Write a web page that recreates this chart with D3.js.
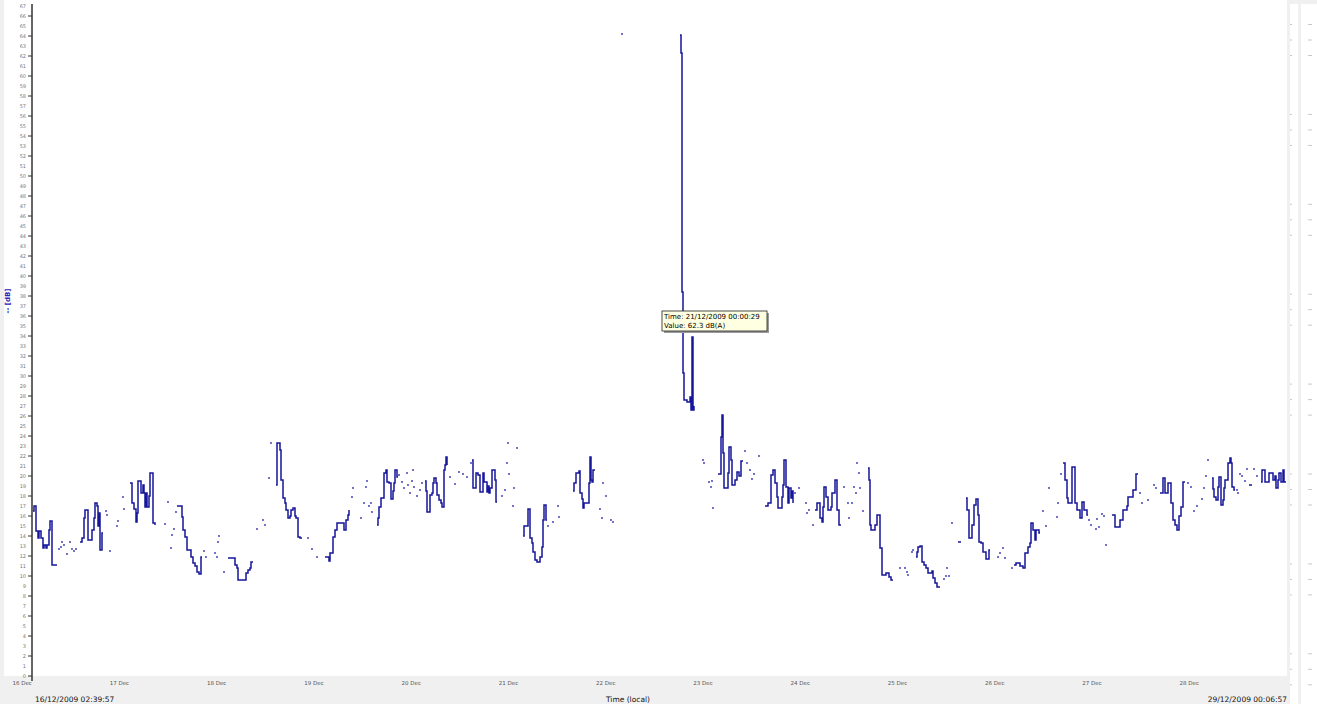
<!DOCTYPE html>
<html>
<head>
<meta charset="utf-8">
<script src="https://cdn.jsdelivr.net/npm/d3@7"></script>
<style>
  body { margin: 0; background: #f0f0f0; }
  svg { display: block; font-family: "DejaVu Sans", sans-serif; }
</style>
</head>
<body>
<div id="chart"></div>
<script>
const svgWidth = 1317;
const svgHeight = 704;

const margin = { top: 5, right: 30, bottom: 28, left: 33 };
const plotRight = svgWidth - margin.right;    // 1287
const plotBottom = svgHeight - margin.bottom; // 676

// time span of the recording, sampled at a fixed step
const startTime = new Date(2009, 11, 16, 2, 39, 57);
const endTime = new Date(2009, 11, 29, 0, 6, 57);
const sampleCount = 1254;

// level values, [sample, value]; each array is one unbroken run of samples
const segments = [
  [[0,16.5],[1,17.0],[3,14.5],[5,13.8],[6,14.5],[8,13.8],[10,12.8],[11,13.1],[13,12.8],[14,13.1],[16,14.6],[17,15.5],[19,11.1],[24,11.1]],
  [[47,13.4],[49,13.8],[51,15.8],[52,16.6],[54,16.6],[55,13.6],[58,13.6],[59,14.6],[61,15.8],[62,17.3],[64,17.0],[65,15.0],[66,16.3],[67,12.6],[69,14.3],[70,14.3]],
  [[97,19.3],[99,17.3],[101,16.7],[103,15.4],[104,16.3],[105,19.5],[107,19.5],[108,18.3],[110,19.1],[111,18.3],[112,16.9],[113,18.3],[114,16.9],[116,18.0],[117,20.3],[119,20.3],[120,15.3],[122,15.1]],
  [[144,17.0],[147,17.0],[149,15.9],[150,14.6],[152,13.9],[154,12.6],[156,12.6],[158,11.9],[160,11.3],[162,11.0],[164,10.4],[166,10.2],[168,11.9],[169,11.9]],
  [[195,11.8],[202,11.1],[204,10.8],[205,9.6],[213,10.3],[215,10.6],[217,10.8],[218,11.4],[220,11.4]],
  [[243,19.1],[244,23.3],[247,22.6],[248,19.6],[250,17.8],[252,17.3],[253,16.6],[255,15.8],[257,16.0],[258,16.6],[260,16.8],[262,16.0],[263,15.8],[265,13.9],[267,13.8],[269,13.8]],
  [[292,11.9],[296,11.5],[297,12.3],[300,13.9],[302,14.6],[304,15.3],[310,15.3],[311,14.6],[313,15.6],[315,16.1],[316,16.6]],
  [[344,15.1],[345,15.8],[346,16.9],[348,17.8],[351,20.3],[353,20.6],[354,19.4],[356,19.3],[358,17.7],[360,18.5],[361,19.3],[362,20.6],[364,19.9],[365,19.9]],
  [[392,19.5],[393,18.5],[394,16.4],[396,16.4],[397,18.1],[399,18.3],[400,19.3],[401,19.8],[403,19.3],[404,18.1],[406,17.6],[408,17.3],[409,16.9],[411,20.6],[412,21.1],[413,21.9],[414,21.1]],
  [[439,21.6],[440,18.8],[443,20.3],[445,20.1],[447,18.4],[450,20.3],[451,19.4],[454,18.4],[455,19.0],[456,18.3],[457,18.8],[459,20.6],[462,19.6],[463,17.4],[464,17.4]],
  [[490,14.0],[491,15.0],[495,16.7],[497,13.8],[499,13.3],[500,12.4],[502,11.6],[504,11.4],[507,11.9],[509,12.9],[510,15.6],[511,17.1],[513,15.6],[514,15.6]],
  [[540,18.5],[541,19.3],[543,20.3],[546,20.5],[547,18.3],[549,17.7],[550,16.8],[551,17.3],[554,17.3],[556,19.3],[557,21.9],[558,19.6],[559,19.4],[560,20.6],[562,20.6]],
  [[647,64.1],[648,62.3],[649,38.4],[650,30.3],[651,27.6],[654,27.4],[657,27.9],[658,26.6],[659,33.9],[660,26.6],[661,27.0]],
  [[685,20.2],[688,23.9],[689,26.1],[690,22.3],[691,18.8],[695,20.3],[696,22.9],[698,21.6],[699,19.1],[702,19.6],[704,20.4],[706,20.0],[708,21.5],[710,21.5]],
  [[732,17.0],[735,17.3],[738,20.1],[740,20.6],[742,19.3],[744,17.9],[745,16.8],[749,17.9],[750,19.1],[751,21.6],[753,18.9],[755,17.3],[756,18.8],[758,17.8],[759,18.5],[760,17.3]],
  [[782,16.6],[784,17.3],[787,15.8],[789,15.4],[790,16.9],[791,18.9],[793,17.9],[795,16.6],[798,16.9],[799,18.3],[802,19.6],[804,16.6],[806,15.1],[808,15.1]],
  [[835,20.8],[836,19.6],[837,15.1],[838,14.6],[842,15.1],[844,16.1],[847,12.8],[849,10.1],[853,10.3],[856,9.9],[858,9.6],[860,9.6]],
  [[883,11.9],[884,12.4],[885,12.9],[887,13.0],[889,11.4],[891,11.1],[893,10.8],[895,10.3],[899,10.5],[900,9.8],[902,9.3],[904,8.9],[907,8.9]],
  [[925,13.4],[928,13.4]],
  [[933,17.8],[934,16.6],[936,13.8],[939,15.1],[941,17.1],[943,17.7],[945,16.1],[946,13.4],[948,13.3],[950,12.4],[953,11.7],[956,12.6],[957,12.6]],
  [[981,11.1],[983,11.3],[987,11.0],[990,10.8],[992,12.3],[995,12.9],[997,13.3],[998,15.3],[1000,14.6],[1002,13.6],[1003,14.6],[1006,14.3],[1007,14.3]],
  [[1030,21.3],[1032,19.6],[1034,17.8],[1035,17.3],[1039,20.9],[1042,17.3],[1044,16.6],[1047,15.8],[1049,17.4],[1051,16.6],[1054,16.1],[1055,16.1]],
  [[1079,16.1],[1082,14.9],[1087,15.6],[1090,16.6],[1094,17.0],[1095,17.9],[1100,18.6],[1103,20.2],[1105,20.2]],
  [[1127,18.3],[1130,19.8],[1132,18.3],[1135,19.3],[1138,17.3],[1140,15.6],[1142,15.1],[1144,14.6],[1146,16.0],[1148,16.9],[1150,19.4],[1152,19.4]],
  [[1179,19.8],[1180,18.7],[1181,17.9],[1183,17.6],[1185,18.9],[1186,19.9],[1188,17.1],[1190,17.6],[1191,18.8],[1192,19.6],[1195,21.3],[1197,21.8],[1198,21.3],[1199,18.9],[1201,18.6],[1202,18.6]],
  [[1216,19.1],[1219,19.1]],
  [[1228,19.4],[1229,20.6],[1232,19.4],[1236,20.3],[1240,19.6],[1242,20.0],[1243,18.8],[1245,19.6],[1246,20.3],[1248,19.4],[1250,20.6],[1251,19.4],[1253,19.4]]
];

// lone samples between the gaps
const dots = [
  [26,12.7],[28,12.9],[29,13.4],[31,13.1],[34,12.2],[37,13.4],[39,12.7],[41,12.5],[43,12.7],
  [73,16.5],[74,16.1],[77,12.5],[84,15.0],[85,15.5],[90,17.9],[91,16.7],
  [132,15.2],[135,17.4],[138,12.8],[139,14.1],[141,14.7],[143,16.4],
  [171,12.5],[173,11.9],[182,12.3],[184,11.9],[185,13.4],[186,14.0],[191,10.4],
  [224,14.7],[230,15.6],[232,15.1],[236,19.8],[238,23.3],
  [275,13.8],[279,12.7],[284,11.9],
  [319,17.9],[320,18.8],[328,15.8],[331,17.3],[333,18.9],[334,19.5],[336,17.0],[338,17.3],[339,16.4],
  [366,20.1],[369,19.4],[371,18.8],[374,20.3],[375,19.1],[377,18.3],[379,19.5],[380,20.6],[381,18.9],[384,18.0],[387,18.6],[389,19.3],
  [417,19.9],[422,19.2],[426,20.4],[430,20.2],[434,19.9],[438,21.3],
  [469,18.0],[472,18.6],[474,21.3],[475,23.3],[476,20.2],[480,17.0],[481,18.8],[484,22.8],
  [515,15.0],[520,15.4],[525,17.0],[526,15.9],
  [567,16.7],[569,15.8],[570,19.3],[573,18.0],[578,15.6],[580,15.4],[589,64.2],
  [670,21.6],[671,21.3],[676,19.4],[678,18.9],[679,19.5],[680,16.8],
  [712,22.5],[714,21.3],[717,20.6],[719,19.7],[721,20.2],[726,22.0],
  [762,18.3],[766,18.8],[773,17.3],[774,16.3],[776,16.6],[780,15.1],
  [811,18.9],[815,17.3],[816,15.8],[819,17.3],[821,18.9],[823,18.3],[824,21.3],[826,20.3],[827,18.8],[830,16.5],
  [867,10.8],[872,10.8],[874,10.4],[875,10.1],[879,12.4],[880,12.6],
  [911,9.7],[913,10.0],[914,10.8],[916,10.0],[919,15.3],
  [965,11.9],[967,12.3],[970,12.8],[972,11.8],[979,10.8],
  [1010,16.5],[1013,15.0],[1016,18.8],[1024,15.9],[1025,17.3],[1028,20.2],
  [1056,15.6],[1058,15.1],[1063,14.7],[1064,15.7],[1066,14.9],[1069,16.2],[1071,16.0],[1073,13.1],
  [1107,18.3],[1109,17.3],[1115,17.6],[1121,19.1],[1123,18.8],
  [1155,19.3],[1158,18.9],[1161,16.5],[1164,17.0],[1169,17.7],[1171,18.8],[1173,20.0],[1175,21.6],
  [1204,18.6],[1205,18.3],[1207,20.2],[1209,20.0],[1212,19.5],[1214,20.7],[1221,20.7],[1224,20.0]
];

const yMax = 67.1;
const yLabel = "-- [dB]";
const xTitle = "Time (local)";
const tooltipLines = ["Time:  21/12/2009 00:00:29", "Value: 62.3 dB(A)"];

const stepMs = (endTime - startTime) / sampleCount;
const sampleTime = i => new Date(+startTime + i * stepMs);

const svg = d3.select("#chart")
  .append("svg")
  .attr("width", svgWidth)
  .attr("height", svgHeight);

// white panels
svg.append("rect")
  .attr("x", 4).attr("y", 0)
  .attr("width", plotRight - 4).attr("height", plotBottom)
  .attr("fill", "#fff");
svg.append("rect")
  .attr("x", 1290).attr("y", 4).attr("width", 8).attr("height", svgHeight - 4)
  .attr("fill", "#fff");
svg.append("rect")
  .attr("x", 1301).attr("y", 4).attr("width", 16).attr("height", svgHeight - 4)
  .attr("fill", "#fff");

// small marks in the side panels
const sideMarks = d3.range(8).flatMap(g => d3.range(3).map(k => 24 + g * 89.9 + k * 15.5));
svg.append("g").selectAll("rect")
  .data(sideMarks)
  .join("rect")
  .attr("x", 1290).attr("y", d => d)
  .attr("width", 2).attr("height", 1)
  .attr("fill", "#c8c8c8");
svg.append("g").selectAll("rect")
  .data(sideMarks)
  .join("rect")
  .attr("x", 1308).attr("y", d => d)
  .attr("width", 4).attr("height", 1)
  .attr("fill", "#c8c8c8");

const xScale = d3.scaleTime()
  .domain([startTime, endTime])
  .range([margin.left, plotRight]);

const yScale = d3.scaleLinear()
  .domain([0, yMax])
  .range([plotBottom, margin.top]);

// y axis: a label on every unit, a tick on every second one
const yTicks = d3.range(0, Math.floor(yMax) + 1);
const yAxis = svg.append("g");
yAxis.append("line")
  .attr("x1", 32).attr("x2", 32)
  .attr("y1", margin.top - 1).attr("y2", plotBottom + 5)
  .attr("stroke", "#333").attr("stroke-width", 1.5);
yAxis.selectAll("line.tick")
  .data(yTicks.filter(d => d % 2 === 0))
  .join("line")
  .attr("class", "tick")
  .attr("x1", 28).attr("x2", 32)
  .attr("y1", d => yScale(d)).attr("y2", d => yScale(d))
  .attr("stroke", "#333");
yAxis.selectAll("text")
  .data(yTicks)
  .join("text")
  .attr("x", 26)
  .attr("y", d => yScale(d) + 2)
  .attr("text-anchor", "end")
  .attr("font-size", "5px")
  .attr("fill", "#777")
  .text(d => d);

svg.append("text")
  .attr("transform", "translate(10, 301) rotate(-90)")
  .attr("text-anchor", "middle")
  .attr("font-size", "7px")
  .attr("font-weight", "bold")
  .attr("fill", "#2424b8")
  .text(yLabel);

// x axis: one label per day, none crowding the end label
const dayTicks = d3.timeDay.range(d3.timeDay.floor(startTime), endTime)
  .filter(d => xScale(d) < plotRight - 40);
svg.append("g").selectAll("text")
  .data(dayTicks)
  .join("text")
  .attr("x", d => xScale(d))
  .attr("y", 685)
  .attr("text-anchor", "middle")
  .attr("font-size", "5.5px")
  .attr("fill", "#555")
  .text(d3.timeFormat("%d %b"));

const fullFormat = d3.timeFormat("%d/%m/%Y %H:%M:%S");
svg.append("text")
  .attr("x", 35).attr("y", 702)
  .attr("font-size", "7.5px")
  .attr("fill", "#111")
  .text(fullFormat(startTime));
svg.append("text")
  .attr("x", 628).attr("y", 702)
  .attr("text-anchor", "middle")
  .attr("font-size", "7.5px")
  .attr("fill", "#111")
  .text(xTitle);
svg.append("text")
  .attr("x", plotRight).attr("y", 702)
  .attr("text-anchor", "end")
  .attr("font-size", "7.5px")
  .attr("fill", "#111")
  .text(fullFormat(endTime));

// the level trace
const line = d3.line()
  .x(d => xScale(sampleTime(d[0])))
  .y(d => yScale(d[1]))
  .curve(d3.curveStepAfter);

svg.append("g").selectAll("path")
  .data(segments)
  .join("path")
  .attr("d", line)
  .attr("fill", "none")
  .attr("stroke", "#16169a")
  .attr("stroke-width", 1.5);

svg.append("g").selectAll("circle")
  .data(dots)
  .join("circle")
  .attr("cx", d => xScale(sampleTime(d[0])))
  .attr("cy", d => yScale(d[1]))
  .attr("r", 0.9)
  .attr("fill", "#3030b0");

// hover tooltip
const tip = svg.append("g").attr("transform", "translate(662, 311)");
tip.append("rect")
  .attr("x", 2).attr("y", 2).attr("width", 105).attr("height", 20)
  .attr("fill", "#9a9a9a");
tip.append("rect")
  .attr("x", 0).attr("y", 0).attr("width", 105).attr("height", 20)
  .attr("fill", "#ffffe1").attr("stroke", "#222").attr("stroke-width", 0.8);
tip.selectAll("text")
  .data(tooltipLines)
  .join("text")
  .attr("x", 2)
  .attr("y", (d, i) => 8 + i * 9)
  .attr("font-size", "7px")
  .attr("fill", "#000")
  .text(d => d);
</script>
</body>
</html>
